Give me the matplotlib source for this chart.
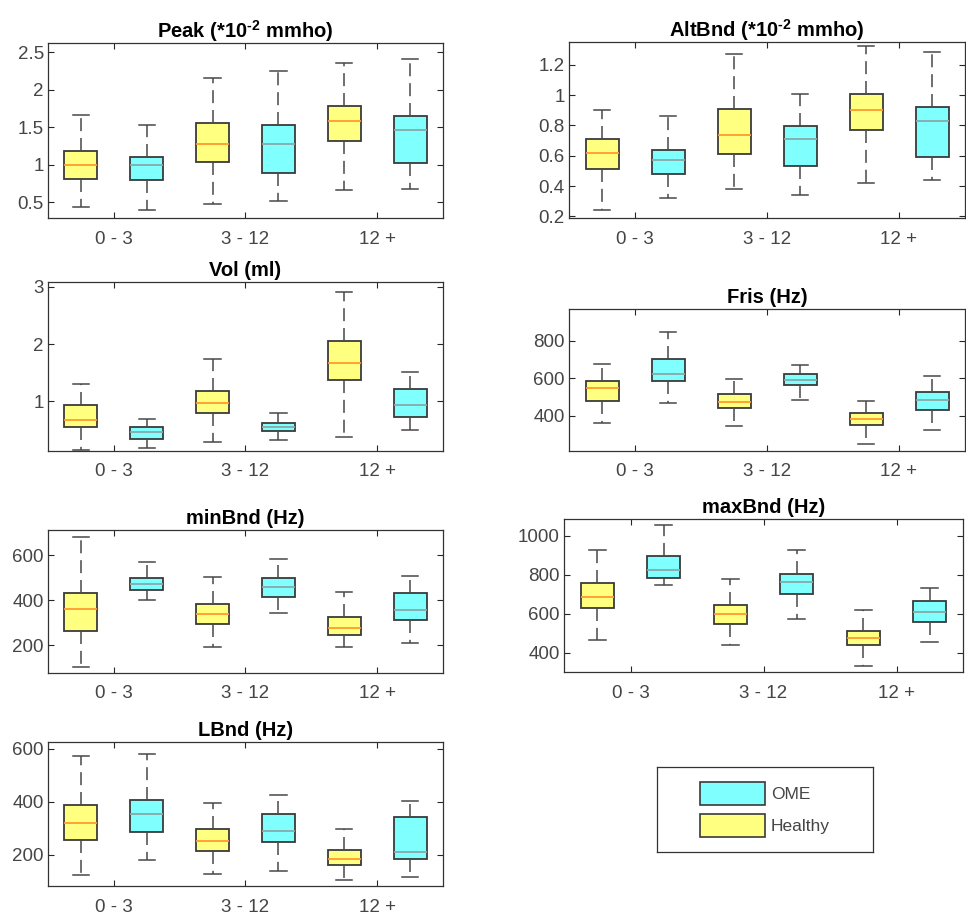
import matplotlib
matplotlib.use("Agg")
import matplotlib.pyplot as plt
from matplotlib.patches import Patch
from matplotlib.ticker import FormatStrFormatter

plt.rcParams['font.family'] = ['Liberation Sans', 'DejaVu Sans']
plt.rcParams['mathtext.fontset'] = 'custom'
# the only mathtext is the bold superscript in two titles
plt.rcParams['mathtext.rm'] = 'Liberation Sans:bold'
plt.rcParams['mathtext.bf'] = 'Liberation Sans:bold'
plt.rcParams['mathtext.default'] = 'bf'

groups = ['0 - 3', '3 - 12', '12 +']

# one row per age group: [lower whisker, q1, median, q3, upper whisker]
peak_healthy = [[0.43, 0.81, 1.00, 1.18, 1.66], [0.47, 1.03, 1.27, 1.56, 2.15], [0.66, 1.32, 1.58, 1.78, 2.35]]
peak_ome = [[0.39, 0.79, 1.00, 1.10, 1.53], [0.52, 0.885, 1.27, 1.53, 2.25], [0.68, 1.02, 1.46, 1.65, 2.41]]

altbnd_healthy = [[0.24, 0.51, 0.62, 0.71, 0.90], [0.38, 0.61, 0.74, 0.91, 1.27], [0.42, 0.77, 0.90, 1.01, 1.325]]
altbnd_ome = [[0.32, 0.48, 0.57, 0.635, 0.864], [0.34, 0.53, 0.71, 0.796, 1.01], [0.44, 0.59, 0.83, 0.92, 1.286]]

vol_healthy = [[0.15, 0.55, 0.67, 0.93, 1.30], [0.285, 0.79, 0.98, 1.18, 1.74], [0.38, 1.37, 1.68, 2.06, 2.92]]
vol_ome = [[0.19, 0.35, 0.47, 0.55, 0.70], [0.33, 0.48, 0.56, 0.62, 0.79], [0.50, 0.73, 0.94, 1.22, 1.52]]

fris_healthy = [[362, 480, 546, 586, 675], [343, 441, 475, 514, 595], [250, 348, 380, 412, 480]]
fris_ome = [[466, 587, 621, 704, 848], [482, 566, 593, 621, 670], [325, 432, 482, 529, 611]]

minbnd_healthy = [[101, 264, 360, 434, 681], [194, 295, 338, 382, 504], [193, 244, 276, 324, 437]]
minbnd_ome = [[401, 447, 471, 501, 569], [342, 415, 461, 498, 582], [209, 310, 356, 431, 510]]

maxbnd_healthy = [[467, 628, 686, 755, 925], [439, 546, 598, 645, 780], [334, 438, 473, 513, 620]]
maxbnd_ome = [[748, 782, 824, 894, 1056], [574, 703, 761, 802, 927], [456, 557, 611, 663, 729]]

lbnd_healthy = [[123, 257, 319, 389, 572], [127, 215, 254, 297, 396], [107, 161, 185, 218, 299]]
lbnd_ome = [[180, 288, 356, 409, 581], [140, 248, 291, 355, 428], [117, 185, 211, 343, 405]]

W, H = 966, 916
YELLOW = '#ffff80'
CYAN = '#80ffff'
EDGE = '#3a3a3a'
TXT = '#454545'
WHISK = '#484848'

# title, healthy, ome, ylim, yticks, pixel box (left, top, right, bottom)
panels = [
    (r'Peak (*10$^{\text{-2}}$ mmho)', peak_healthy, peak_ome, (0.29, 2.62), [0.5, 1, 1.5, 2, 2.5], (48, 43, 443, 218)),
    (r'AltBnd (*10$^{\text{-2}}$ mmho)', altbnd_healthy, altbnd_ome, (0.19, 1.35), [0.2, 0.4, 0.6, 0.8, 1, 1.2], (569, 42, 965, 218)),
    ('Vol (ml)', vol_healthy, vol_ome, (0.134, 3.087), [1, 2, 3], (48, 282, 443, 451)),
    ('Fris (Hz)', fris_healthy, fris_ome, (211, 970), [400, 600, 800], (569, 309, 965, 451)),
    ('minBnd (Hz)', minbnd_healthy, minbnd_ome, (76, 713), [200, 400, 600], (48, 530, 443, 673)),
    ('maxBnd (Hz)', maxbnd_healthy, maxbnd_ome, (301, 1085), [400, 600, 800, 1000], (564, 519, 963, 672)),
    ('LBnd (Hz)', lbnd_healthy, lbnd_ome, (83, 626), [200, 400, 600], (48, 742, 443, 886)),
]


def px_axes(fig, box):
    x0, y0, x1, y1 = box
    return fig.add_axes([x0 / W, 1 - y1 / H, (x1 - x0) / W, (y1 - y0) / H])


fig = plt.figure(figsize=(W / 100, H / 100), dpi=100)

for title, healthy, ome, ylim, yticks, box in panels:
    ax = px_axes(fig, box)
    stats = []
    for h, o in zip(healthy, ome):
        for v in (h, o):
            stats.append(dict(whislo=v[0], q1=v[1], med=v[2], q3=v[3], whishi=v[4]))
    bp = ax.bxp(stats, positions=range(1, 7), widths=0.5, capwidths=0.25,
                patch_artist=True, showfliers=False,
                boxprops=dict(edgecolor=EDGE, linewidth=1.3),
                whiskerprops=dict(color=WHISK, linewidth=1.1, linestyle=(0, (8.5, 4.5))),
                capprops=dict(color=WHISK, linewidth=1.1),
                medianprops=dict(linewidth=1.3))
    for i, patch in enumerate(bp['boxes']):
        patch.set_facecolor(YELLOW if i % 2 == 0 else CYAN)
    for i, med in enumerate(bp['medians']):
        med.set_color('#ff9a30' if i % 2 == 0 else '#8aa8a8')
    ax.set_xlim(0.5, 6.5)
    ax.set_ylim(*ylim)
    ax.set_xticks([1.5, 3.5, 5.5])
    ax.set_xticklabels(groups)
    ax.set_yticks(yticks)
    ax.yaxis.set_major_formatter(FormatStrFormatter('%g'))
    ax.tick_params(direction='in', top=True, right=True, length=4, width=0.8,
                   color='#262626', labelcolor=TXT, labelsize=13.5)
    ax.tick_params(axis='x', pad=9)
    ax.tick_params(axis='y', pad=3)
    for s in ax.spines.values():
        s.set_color('#333333')
        s.set_linewidth(0.9)
    ax.set_title(title, fontsize=14.5, fontweight='bold', pad=4)

# legend box
lax = px_axes(fig, (657, 767, 873, 852))
lax.set_xticks([])
lax.set_yticks([])
for s in lax.spines.values():
    s.set_color('#333333')
    s.set_linewidth(0.9)
handles = [Patch(facecolor=CYAN, edgecolor=EDGE, linewidth=1.2),
           Patch(facecolor=YELLOW, edgecolor=EDGE, linewidth=1.2)]
lax.legend(handles, ['OME', 'Healthy'], loc='center', frameon=False, fontsize=12.5,
           handlelength=3.75, handleheight=1.6, labelspacing=0.57, handletextpad=0.3,
           labelcolor=TXT)

fig.savefig('out.png', dpi=100, facecolor='white')
